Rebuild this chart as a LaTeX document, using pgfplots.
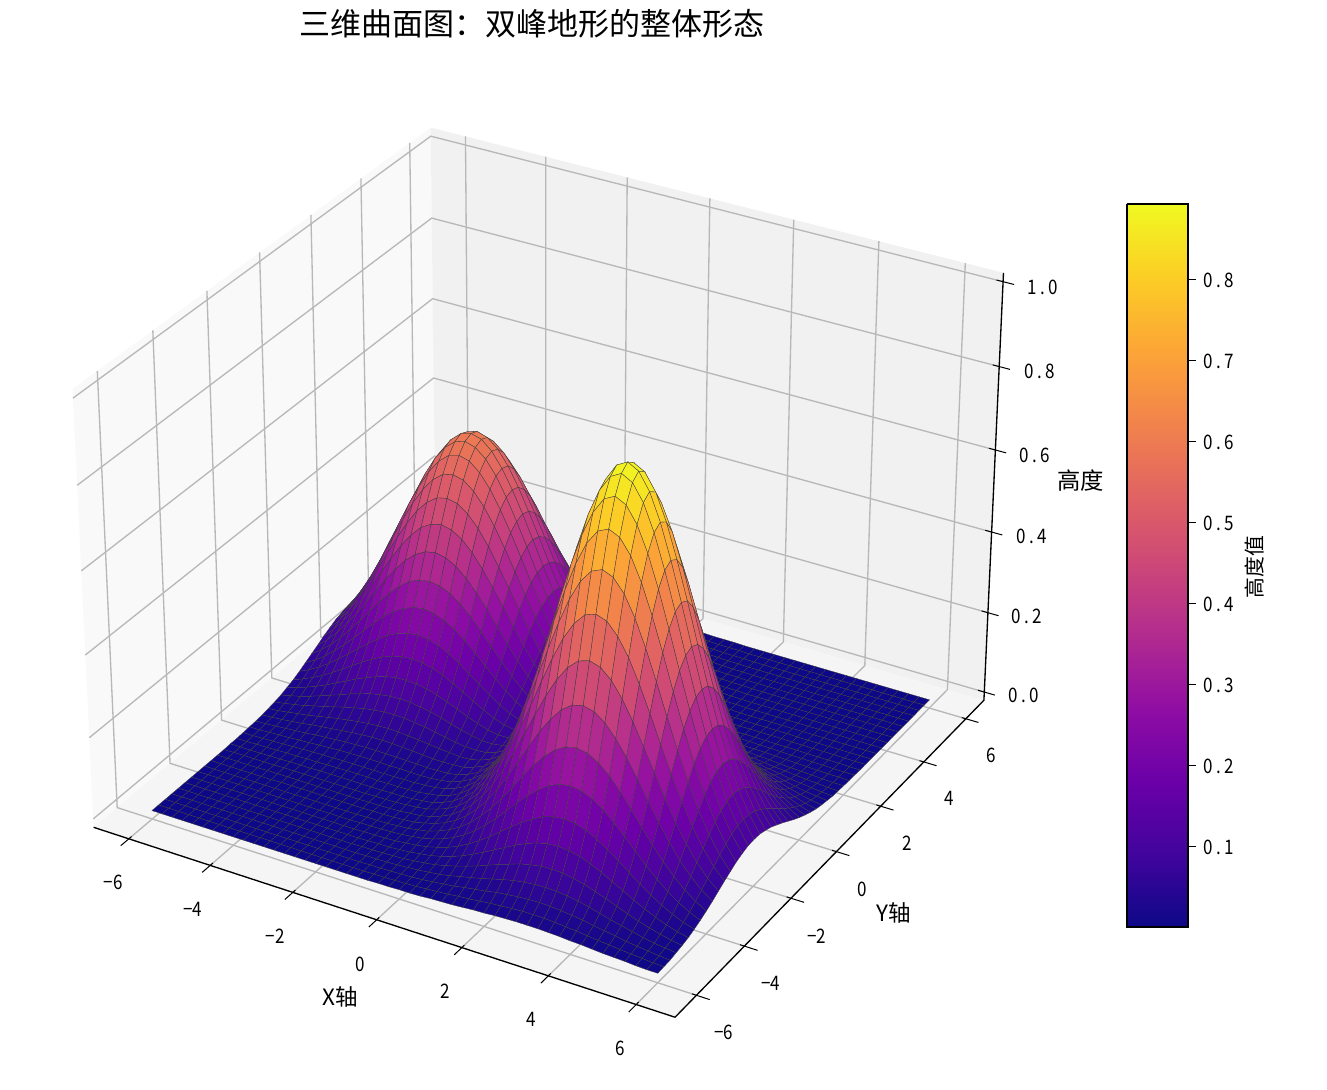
\documentclass[border=0pt]{standalone}
\usepackage{pgfplots}
\pgfplotsset{compat=1.18}
\usepackage{fontspec}
\setmainfont{Noto Sans CJK SC}
\newfontfamily\tkfont[FakeStretch=0.85]{Noto Sans CJK SC}
\definecolor{gridc}{gray}{0.72}
\pgfplotsset{table/proj/.style={row sep=\\,header=false,
  x expr={PX(\thisrowno{0},\thisrowno{1},\thisrowno{2})},
  y expr={PY(\thisrowno{0},\thisrowno{1},\thisrowno{2})},z expr=0}}
\newcommand\T[4][]{\node[inner sep=0pt,#1] at (axis cs:#2,#3,0) {#4};}
\newcommand\TK[3]{\T{#1}{#2}{\tkfont\fontsize{12pt}{12pt}\selectfont #3}}
\newcommand\tl[3]{\makebox[6.2pt]{#1}\makebox[6.2pt]{#2}\makebox[6.2pt]{#3}}
\begin{document}
\begin{tikzpicture}
\path[use as bounding box] (0,0) rectangle (796.2pt,654pt);
\begin{axis}[at={(0,0)},anchor=south west,scale only axis,width=796.2pt,height=654pt,
  xmin=0,xmax=1327,ymin=0,ymax=1090,zmin=-1,zmax=1,y dir=reverse,hide axis,clip=false,view={0}{90},
  declare function={
    DD(\x,\y,\z)=10-(0.43301*\x*0.08658-0.75*\y*0.08658+0.5*(0.85718*\z-0.42859));
    PX(\x,\y,\z)=547+5595*(0.86603*\x+0.5*\y)*0.08658/DD(\x,\y,\z);
    PY(\x,\y,\z)=551-5595*((-0.25*\x+0.43301*\y)*0.08658+0.86603*(0.85718*\z-0.42859))/DD(\x,\y,\z);
    RW(\c)=floor((\c+0.5)/49);
    CL(\c)=\c-49*RW(\c);
  },
  colormap={plasma}{rgb255=(13,8,135) rgb255=(65,4,157) rgb255=(106,0,168) rgb255=(143,13,164) rgb255=(177,42,144) rgb255=(204,71,120) rgb255=(225,100,98) rgb255=(242,132,75) rgb255=(252,166,54) rgb255=(252,206,37) rgb255=(240,249,33)},
  point meta min=0,point meta max=0.894]
% panes
\addplot3[fill={rgb,1:red,0.975;green,0.975;blue,0.975},draw=none] table[proj]{-6.875 -6.875 -0.02083\\-6.875 6.875 -0.02083\\-6.875 6.875 1.02083\\-6.875 -6.875 1.02083\\-6.875 -6.875 -0.02083\\};
\addplot3[fill={rgb,1:red,0.945;green,0.945;blue,0.945},draw=none] table[proj]{-6.875 6.875 -0.02083\\6.875 6.875 -0.02083\\6.875 6.875 1.02083\\-6.875 6.875 1.02083\\-6.875 6.875 -0.02083\\};
\addplot3[fill={rgb,1:red,0.96;green,0.96;blue,0.96},draw=none] table[proj]{-6.875 -6.875 -0.02083\\6.875 -6.875 -0.02083\\6.875 6.875 -0.02083\\-6.875 6.875 -0.02083\\-6.875 -6.875 -0.02083\\};
% grid and ticks
\pgfplotsinvokeforeach{-6,-4,-2,0,2,4,6}{
  \addplot3[gridc,line width=0.8pt] table[proj]{#1 -6.875 -0.02083\\#1 6.875 -0.02083\\#1 6.875 1.02083\\};
  \addplot3[gridc,line width=0.8pt] table[proj]{6.875 #1 -0.02083\\-6.875 #1 -0.02083\\-6.875 #1 1.02083\\};
  \addplot3[black,line width=0.6pt] table[proj]{#1 -7.175 -0.02083\\#1 -6.775 -0.02083\\};
  \addplot3[black,line width=0.6pt] table[proj]{6.775 #1 -0.02083\\7.175 #1 -0.02083\\};
}
\pgfplotsinvokeforeach{0,0.2,0.4,0.6,0.8,1.0}{
  \addplot3[gridc,line width=0.8pt] table[proj]{-6.875 -6.875 #1\\-6.875 6.875 #1\\6.875 6.875 #1\\};
  \addplot3[black,line width=0.6pt] table[proj]{6.725 6.875 #1\\7.125 6.875 #1\\};
}
% axis lines
\addplot3[black,line width=0.8pt] table[proj]{-6.875 -6.875 -0.02083\\6.875 -6.875 -0.02083\\6.875 6.875 -0.02083\\6.875 6.875 1.02083\\};
% surface: heights on a grid x=-6..6 (step 0.25), y=6..-6 (step 0.25)
\addplot3[surf,shader=faceted,faceted color=black!75,line width=0.2pt,z buffer=none,mesh/rows=49,mesh/cols=49,mesh/ordering=x varies,point meta=\thisrowno{0}]
 table[row sep=\\,header=false,
   x expr={PX(-6+0.25*CL(\coordindex),6-0.25*RW(\coordindex),\thisrowno{0})},
   y expr={PY(-6+0.25*CL(\coordindex),6-0.25*RW(\coordindex),\thisrowno{0})},z expr=0]{
.004\\.005\\.007\\.009\\.011\\.013\\.016\\.018\\.020\\.022\\.023\\.024\\.024\\.024\\.023\\.022\\.020\\.018\\.016\\.013\\.011\\.009\\.007\\.005\\.004\\.003\\.002\\.001\\.001\\.001\\0\\0\\0\\0\\0\\0\\0\\0\\0\\0\\0\\0\\0\\0\\0\\0\\0\\0\\0\\
.006\\.008\\.010\\.013\\.016\\.020\\.023\\.026\\.029\\.032\\.034\\.036\\.036\\.036\\.034\\.032\\.029\\.026\\.023\\.020\\.016\\.013\\.010\\.008\\.006\\.004\\.003\\.002\\.001\\.001\\.001\\0\\0\\0\\0\\0\\0\\0\\0\\0\\0\\0\\0\\0\\0\\0\\0\\0\\0\\
.009\\.011\\.015\\.019\\.023\\.028\\.033\\.038\\.042\\.046\\.049\\.051\\.052\\.051\\.049\\.046\\.042\\.038\\.033\\.028\\.023\\.019\\.015\\.011\\.009\\.006\\.004\\.003\\.002\\.001\\.001\\.001\\0\\0\\0\\0\\0\\0\\0\\0\\0\\0\\0\\0\\0\\0\\0\\0\\0\\
.012\\.016\\.021\\.026\\.033\\.039\\.046\\.053\\.059\\.065\\.069\\.072\\.073\\.072\\.069\\.065\\.059\\.053\\.046\\.039\\.033\\.026\\.021\\.016\\.012\\.009\\.006\\.004\\.003\\.002\\.001\\.001\\0\\0\\0\\0\\0\\0\\0\\0\\0\\0\\0\\0\\0\\0\\0\\0\\0\\
.016\\.022\\.028\\.036\\.045\\.054\\.063\\.073\\.081\\.089\\.094\\.098\\.099\\.098\\.094\\.089\\.081\\.073\\.063\\.054\\.045\\.036\\.028\\.022\\.016\\.012\\.009\\.006\\.004\\.003\\.002\\.001\\.001\\0\\0\\0\\0\\0\\0\\0\\0\\0\\0\\0\\0\\0\\0\\0\\0\\
.022\\.029\\.038\\.048\\.059\\.072\\.084\\.097\\.108\\.118\\.126\\.131\\.132\\.131\\.126\\.118\\.108\\.097\\.084\\.072\\.059\\.048\\.038\\.029\\.022\\.016\\.011\\.008\\.005\\.003\\.002\\.001\\.001\\0\\0\\0\\0\\0\\0\\0\\0\\0\\0\\0\\0\\0\\0\\0\\0\\
.028\\.038\\.049\\.062\\.077\\.093\\.110\\.126\\.141\\.154\\.164\\.170\\.172\\.170\\.164\\.154\\.141\\.126\\.110\\.093\\.077\\.062\\.049\\.038\\.028\\.021\\.015\\.010\\.007\\.005\\.003\\.002\\.001\\.001\\0\\0\\0\\0\\0\\0\\0\\0\\0\\0\\0\\0\\0\\0\\0\\
.036\\.048\\.062\\.079\\.098\\.118\\.139\\.159\\.178\\.195\\.207\\.215\\.218\\.215\\.207\\.195\\.178\\.159\\.139\\.118\\.098\\.079\\.062\\.048\\.036\\.027\\.019\\.013\\.009\\.006\\.004\\.002\\.001\\.001\\0\\0\\0\\0\\0\\0\\0\\0\\0\\0\\0\\0\\0\\0\\0\\
.045\\.059\\.077\\.098\\.121\\.146\\.172\\.197\\.221\\.241\\.256\\.266\\.270\\.266\\.256\\.241\\.221\\.197\\.172\\.146\\.121\\.098\\.077\\.059\\.045\\.033\\.023\\.016\\.011\\.007\\.004\\.003\\.002\\.001\\0\\0\\0\\0\\0\\0\\0\\0\\0\\0\\0\\0\\0\\0\\0\\
.054\\.072\\.093\\.118\\.146\\.176\\.207\\.238\\.266\\.291\\.310\\.321\\.325\\.321\\.310\\.291\\.266\\.238\\.207\\.176\\.146\\.118\\.093\\.072\\.054\\.039\\.028\\.020\\.013\\.009\\.006\\.004\\.002\\.001\\.001\\0\\0\\0\\0\\0\\0\\0\\0\\0\\0\\0\\0\\0\\0\\
.063\\.084\\.110\\.139\\.172\\.207\\.244\\.280\\.313\\.342\\.364\\.378\\.383\\.378\\.364\\.342\\.313\\.280\\.244\\.207\\.172\\.139\\.110\\.084\\.063\\.047\\.033\\.023\\.016\\.010\\.007\\.004\\.003\\.002\\.001\\0\\0\\0\\0\\0\\0\\0\\0\\0\\0\\0\\0\\0\\0\\
.073\\.097\\.126\\.159\\.197\\.238\\.280\\.321\\.359\\.392\\.418\\.433\\.439\\.433\\.418\\.392\\.359\\.321\\.280\\.238\\.197\\.159\\.126\\.097\\.073\\.053\\.038\\.026\\.018\\.012\\.008\\.005\\.004\\.003\\.002\\.002\\.001\\.001\\.001\\.001\\.001\\0\\0\\0\\0\\0\\0\\0\\0\\
.081\\.108\\.141\\.178\\.221\\.266\\.313\\.359\\.402\\.439\\.467\\.485\\.491\\.485\\.467\\.439\\.402\\.359\\.313\\.266\\.221\\.178\\.141\\.108\\.081\\.059\\.042\\.030\\.021\\.014\\.010\\.006\\.005\\.004\\.003\\.003\\.002\\.002\\.002\\.002\\.002\\.001\\.001\\.001\\.001\\.001\\0\\0\\0\\
.089\\.118\\.154\\.195\\.241\\.291\\.342\\.392\\.439\\.479\\.510\\.530\\.536\\.530\\.510\\.479\\.439\\.392\\.342\\.291\\.241\\.195\\.154\\.118\\.089\\.065\\.047\\.033\\.023\\.016\\.011\\.008\\.006\\.005\\.004\\.004\\.003\\.003\\.003\\.003\\.002\\.002\\.002\\.001\\.001\\.001\\.001\\0\\0\\
.094\\.126\\.164\\.207\\.256\\.310\\.364\\.418\\.467\\.510\\.543\\.564\\.571\\.564\\.543\\.510\\.467\\.418\\.364\\.310\\.256\\.207\\.164\\.126\\.095\\.070\\.050\\.036\\.025\\.018\\.013\\.010\\.009\\.007\\.007\\.007\\.006\\.006\\.006\\.005\\.005\\.004\\.003\\.003\\.002\\.002\\.001\\.001\\.001\\
.098\\.131\\.170\\.215\\.266\\.321\\.378\\.433\\.485\\.530\\.564\\.585\\.593\\.585\\.564\\.530\\.485\\.433\\.378\\.321\\.266\\.215\\.170\\.132\\.099\\.074\\.053\\.039\\.028\\.021\\.016\\.014\\.012\\.011\\.010\\.011\\.010\\.010\\.009\\.009\\.008\\.007\\.006\\.005\\.004\\.003\\.002\\.002\\.001\\
.099\\.132\\.172\\.218\\.270\\.325\\.383\\.439\\.491\\.536\\.571\\.593\\.600\\.593\\.571\\.536\\.491\\.439\\.383\\.325\\.270\\.218\\.173\\.133\\.101\\.075\\.055\\.041\\.030\\.023\\.019\\.018\\.016\\.016\\.016\\.017\\.016\\.016\\.015\\.014\\.012\\.011\\.009\\.007\\.006\\.005\\.003\\.002\\.002\\
.098\\.131\\.170\\.215\\.266\\.321\\.378\\.433\\.485\\.530\\.564\\.585\\.593\\.585\\.564\\.530\\.485\\.433\\.378\\.321\\.266\\.216\\.171\\.133\\.101\\.076\\.057\\.044\\.034\\.029\\.025\\.025\\.025\\.025\\.026\\.028\\.027\\.027\\.025\\.023\\.021\\.018\\.015\\.013\\.010\\.008\\.006\\.004\\.003\\
.094\\.126\\.164\\.207\\.256\\.310\\.364\\.418\\.467\\.510\\.543\\.564\\.571\\.564\\.543\\.510\\.467\\.418\\.364\\.310\\.257\\.208\\.166\\.129\\.098\\.075\\.058\\.046\\.038\\.035\\.034\\.034\\.037\\.038\\.040\\.042\\.042\\.041\\.039\\.036\\.033\\.028\\.024\\.020\\.015\\.012\\.009\\.006\\.004\\
.089\\.118\\.154\\.195\\.241\\.291\\.342\\.392\\.439\\.479\\.510\\.530\\.536\\.530\\.510\\.479\\.439\\.392\\.342\\.292\\.242\\.197\\.157\\.123\\.096\\.075\\.059\\.050\\.046\\.045\\.045\\.049\\.054\\.058\\.061\\.064\\.064\\.063\\.060\\.056\\.050\\.043\\.036\\.030\\.024\\.018\\.013\\.010\\.007\\
.081\\.108\\.141\\.178\\.221\\.266\\.313\\.359\\.402\\.439\\.467\\.485\\.491\\.485\\.467\\.439\\.402\\.359\\.314\\.267\\.223\\.181\\.145\\.115\\.091\\.073\\.062\\.056\\.055\\.057\\.063\\.069\\.076\\.084\\.089\\.094\\.094\\.093\\.088\\.082\\.073\\.064\\.054\\.044\\.035\\.027\\.020\\.014\\.010\\
.073\\.097\\.126\\.159\\.197\\.238\\.280\\.321\\.359\\.392\\.418\\.433\\.439\\.433\\.418\\.392\\.359\\.321\\.281\\.240\\.199\\.163\\.132\\.107\\.087\\.073\\.066\\.064\\.068\\.075\\.085\\.096\\.108\\.119\\.128\\.134\\.135\\.133\\.127\\.117\\.105\\.091\\.077\\.063\\.050\\.038\\.028\\.020\\.014\\
.063\\.084\\.110\\.139\\.172\\.207\\.244\\.280\\.313\\.342\\.364\\.378\\.383\\.378\\.364\\.342\\.313\\.281\\.245\\.209\\.175\\.145\\.119\\.097\\.083\\.075\\.072\\.076\\.085\\.097\\.114\\.131\\.149\\.164\\.177\\.184\\.187\\.184\\.176\\.162\\.146\\.127\\.107\\.087\\.069\\.053\\.039\\.028\\.020\\
.054\\.072\\.093\\.118\\.146\\.176\\.207\\.238\\.266\\.291\\.310\\.321\\.325\\.321\\.310\\.291\\.267\\.239\\.209\\.179\\.151\\.126\\.105\\.090\\.081\\.077\\.081\\.091\\.106\\.126\\.150\\.175\\.198\\.220\\.238\\.248\\.252\\.248\\.237\\.219\\.196\\.171\\.144\\.117\\.093\\.071\\.053\\.038\\.027\\
.045\\.059\\.077\\.098\\.121\\.146\\.172\\.197\\.221\\.241\\.256\\.266\\.270\\.266\\.256\\.241\\.222\\.198\\.174\\.150\\.127\\.108\\.092\\.083\\.080\\.083\\.092\\.109\\.132\\.160\\.191\\.226\\.258\\.287\\.309\\.324\\.329\\.324\\.309\\.286\\.256\\.223\\.187\\.153\\.121\\.093\\.069\\.050\\.035\\
.036\\.048\\.062\\.079\\.098\\.118\\.139\\.159\\.178\\.195\\.207\\.215\\.218\\.215\\.207\\.195\\.179\\.160\\.142\\.123\\.105\\.092\\.082\\.078\\.080\\.090\\.106\\.130\\.162\\.199\\.241\\.283\\.325\\.362\\.391\\.410\\.416\\.410\\.391\\.361\\.324\\.281\\.237\\.193\\.153\\.117\\.087\\.063\\.044\\
.028\\.038\\.049\\.062\\.077\\.093\\.110\\.126\\.141\\.154\\.164\\.170\\.172\\.170\\.164\\.155\\.142\\.128\\.113\\.099\\.086\\.077\\.073\\.074\\.082\\.098\\.122\\.154\\.194\\.242\\.293\\.346\\.397\\.443\\.478\\.501\\.509\\.501\\.478\\.442\\.396\\.344\\.290\\.237\\.187\\.144\\.107\\.077\\.054\\
.022\\.029\\.038\\.048\\.059\\.072\\.084\\.097\\.108\\.118\\.126\\.131\\.132\\.131\\.126\\.119\\.109\\.099\\.088\\.079\\.070\\.066\\.066\\.072\\.086\\.107\\.138\\.179\\.228\\.284\\.346\\.410\\.472\\.526\\.568\\.596\\.605\\.596\\.568\\.526\\.471\\.409\\.344\\.281\\.223\\.171\\.127\\.091\\.064\\
.016\\.022\\.028\\.036\\.045\\.054\\.063\\.073\\.081\\.089\\.094\\.098\\.099\\.098\\.094\\.090\\.083\\.075\\.068\\.062\\.057\\.057\\.061\\.072\\.089\\.117\\.155\\.202\\.260\\.327\\.398\\.472\\.543\\.605\\.654\\.685\\.696\\.685\\.654\\.605\\.542\\.471\\.396\\.324\\.256\\.196\\.146\\.105\\.073\\
.012\\.016\\.021\\.026\\.033\\.039\\.046\\.053\\.059\\.065\\.069\\.072\\.073\\.072\\.069\\.066\\.061\\.056\\.051\\.048\\.047\\.049\\.057\\.072\\.094\\.126\\.168\\.223\\.289\\.363\\.443\\.527\\.605\\.675\\.730\\.765\\.777\\.765\\.730\\.675\\.605\\.526\\.442\\.361\\.286\\.219\\.162\\.117\\.082\\
.009\\.011\\.015\\.019\\.023\\.028\\.033\\.038\\.042\\.046\\.049\\.051\\.052\\.051\\.049\\.047\\.044\\.041\\.039\\.037\\.038\\.044\\.054\\.071\\.097\\.133\\.180\\.240\\.311\\.392\\.479\\.569\\.654\\.730\\.789\\.827\\.840\\.827\\.789\\.730\\.654\\.568\\.478\\.391\\.309\\.237\\.176\\.127\\.088\\
.006\\.008\\.010\\.013\\.016\\.020\\.023\\.026\\.029\\.032\\.034\\.036\\.036\\.036\\.034\\.033\\.031\\.029\\.029\\.030\\.032\\.040\\.051\\.071\\.099\\.137\\.187\\.250\\.325\\.411\\.502\\.596\\.685\\.765\\.827\\.866\\.880\\.866\\.827\\.765\\.685\\.596\\.501\\.410\\.324\\.248\\.184\\.133\\.093\\
.004\\.005\\.007\\.009\\.011\\.013\\.016\\.018\\.020\\.022\\.023\\.024\\.024\\.024\\.023\\.023\\.022\\.021\\.022\\.023\\.027\\.036\\.049\\.069\\.098\\.138\\.189\\.253\\.330\\.417\\.509\\.605\\.696\\.777\\.840\\.880\\.894\\.880\\.840\\.777\\.696\\.605\\.509\\.416\\.329\\.252\\.187\\.135\\.094\\
.003\\.003\\.005\\.006\\.007\\.009\\.010\\.012\\.013\\.015\\.015\\.016\\.016\\.016\\.015\\.016\\.015\\.015\\.016\\.019\\.023\\.033\\.046\\.066\\.096\\.135\\.185\\.249\\.325\\.410\\.501\\.596\\.685\\.765\\.827\\.866\\.880\\.866\\.827\\.765\\.685\\.596\\.501\\.410\\.324\\.248\\.184\\.133\\.093\\
.002\\.002\\.003\\.004\\.005\\.006\\.007\\.008\\.009\\.009\\.010\\.010\\.010\\.010\\.010\\.010\\.011\\.011\\.013\\.015\\.020\\.029\\.042\\.062\\.090\\.128\\.177\\.238\\.309\\.391\\.478\\.568\\.654\\.730\\.789\\.827\\.840\\.827\\.789\\.730\\.654\\.568\\.478\\.391\\.309\\.237\\.176\\.127\\.088\\
.001\\.001\\.002\\.002\\.003\\.004\\.004\\.005\\.005\\.006\\.006\\.007\\.007\\.007\\.006\\.007\\.007\\.008\\.009\\.013\\.017\\.025\\.038\\.057\\.083\\.118\\.163\\.219\\.286\\.361\\.442\\.526\\.605\\.675\\.730\\.765\\.777\\.765\\.730\\.675\\.605\\.526\\.442\\.361\\.286\\.219\\.162\\.117\\.082\\
.001\\.001\\.001\\.001\\.002\\.002\\.003\\.003\\.003\\.004\\.004\\.004\\.004\\.004\\.004\\.004\\.005\\.005\\.007\\.010\\.013\\.022\\.034\\.051\\.073\\.105\\.146\\.196\\.256\\.324\\.396\\.471\\.542\\.605\\.654\\.685\\.696\\.685\\.654\\.605\\.542\\.471\\.396\\.324\\.256\\.196\\.146\\.105\\.073\\
0\\.001\\.001\\.001\\.001\\.001\\.002\\.002\\.002\\.002\\.002\\.002\\.002\\.002\\.002\\.003\\.003\\.004\\.006\\.008\\.012\\.019\\.029\\.043\\.064\\.091\\.127\\.171\\.223\\.281\\.344\\.409\\.471\\.526\\.568\\.596\\.605\\.596\\.568\\.526\\.471\\.409\\.344\\.281\\.223\\.171\\.127\\.091\\.064\\
0\\0\\0\\0\\0\\.001\\.001\\.001\\.001\\.001\\.001\\.001\\.001\\.001\\.001\\.002\\.002\\.003\\.004\\.007\\.009\\.015\\.024\\.036\\.054\\.077\\.107\\.144\\.187\\.237\\.290\\.344\\.396\\.442\\.478\\.501\\.509\\.501\\.478\\.442\\.396\\.344\\.290\\.237\\.187\\.144\\.107\\.077\\.054\\
0\\0\\0\\0\\0\\0\\0\\.001\\.001\\.001\\.001\\.001\\.001\\.001\\.001\\.001\\.002\\.002\\.003\\.005\\.007\\.013\\.020\\.030\\.044\\.063\\.087\\.117\\.153\\.193\\.237\\.281\\.324\\.361\\.391\\.410\\.416\\.410\\.391\\.361\\.324\\.281\\.237\\.193\\.153\\.117\\.087\\.063\\.044\\
0\\0\\0\\0\\0\\0\\0\\0\\0\\0\\0\\0\\0\\0\\0\\0\\.001\\.001\\.002\\.004\\.006\\.010\\.015\\.024\\.035\\.050\\.069\\.093\\.121\\.153\\.187\\.223\\.256\\.286\\.309\\.324\\.329\\.324\\.309\\.286\\.256\\.223\\.187\\.153\\.121\\.093\\.069\\.050\\.035\\
0\\0\\0\\0\\0\\0\\0\\0\\0\\0\\0\\0\\0\\0\\0\\0\\.001\\.001\\.002\\.003\\.005\\.008\\.012\\.018\\.027\\.038\\.053\\.071\\.093\\.117\\.144\\.171\\.196\\.219\\.237\\.248\\.252\\.248\\.237\\.219\\.196\\.171\\.144\\.117\\.093\\.071\\.053\\.038\\.027\\
0\\0\\0\\0\\0\\0\\0\\0\\0\\0\\0\\0\\0\\0\\0\\0\\0\\.001\\.001\\.002\\.003\\.006\\.009\\.013\\.020\\.028\\.039\\.053\\.069\\.087\\.107\\.127\\.146\\.162\\.176\\.184\\.187\\.184\\.176\\.162\\.146\\.127\\.107\\.087\\.069\\.053\\.039\\.028\\.020\\
0\\0\\0\\0\\0\\0\\0\\0\\0\\0\\0\\0\\0\\0\\0\\0\\0\\0\\.001\\.002\\.002\\.004\\.006\\.010\\.014\\.020\\.028\\.038\\.050\\.063\\.077\\.091\\.105\\.117\\.127\\.133\\.135\\.133\\.127\\.117\\.105\\.091\\.077\\.063\\.050\\.038\\.028\\.020\\.014\\
0\\0\\0\\0\\0\\0\\0\\0\\0\\0\\0\\0\\0\\0\\0\\0\\0\\0\\.001\\.001\\.002\\.003\\.004\\.007\\.010\\.014\\.020\\.027\\.035\\.044\\.054\\.064\\.073\\.082\\.088\\.093\\.094\\.093\\.088\\.082\\.073\\.064\\.054\\.044\\.035\\.027\\.020\\.014\\.010\\
0\\0\\0\\0\\0\\0\\0\\0\\0\\0\\0\\0\\0\\0\\0\\0\\0\\0\\0\\.001\\.001\\.002\\.003\\.005\\.007\\.010\\.013\\.018\\.024\\.030\\.036\\.043\\.050\\.056\\.060\\.063\\.064\\.063\\.060\\.056\\.050\\.043\\.036\\.030\\.024\\.018\\.013\\.010\\.007\\
0\\0\\0\\0\\0\\0\\0\\0\\0\\0\\0\\0\\0\\0\\0\\0\\0\\0\\0\\0\\.001\\.001\\.002\\.003\\.004\\.006\\.009\\.012\\.015\\.020\\.024\\.028\\.033\\.036\\.039\\.041\\.042\\.041\\.039\\.036\\.033\\.028\\.024\\.020\\.015\\.012\\.009\\.006\\.004\\
0\\0\\0\\0\\0\\0\\0\\0\\0\\0\\0\\0\\0\\0\\0\\0\\0\\0\\0\\0\\0\\.001\\.001\\.002\\.003\\.004\\.006\\.008\\.010\\.013\\.015\\.018\\.021\\.023\\.025\\.027\\.027\\.027\\.025\\.023\\.021\\.018\\.015\\.013\\.010\\.008\\.006\\.004\\.003\\
0\\0\\0\\0\\0\\0\\0\\0\\0\\0\\0\\0\\0\\0\\0\\0\\0\\0\\0\\0\\0\\0\\.001\\.001\\.002\\.002\\.003\\.005\\.006\\.007\\.009\\.011\\.012\\.014\\.015\\.016\\.016\\.016\\.015\\.014\\.012\\.011\\.009\\.007\\.006\\.005\\.003\\.002\\.002\\
};
% colorbar
\addplot3[surf,shader=interp,z buffer=none,mesh/rows=2,mesh/cols=2,mesh/ordering=x varies,point meta=\thisrowno{2}]
 table[row sep=\\,header=false,x index=0,y index=1,z expr=0]{1127 927 0\\1188 927 0\\1127 204 0.894\\1188 204 0.894\\};
\addplot3[black,line width=0.65pt] coordinates {(1127,204,0) (1188,204,0) (1188,927,0) (1127,927,0) (1127,204,0)};
\pgfplotsinvokeforeach{846.1,765.2,684.3,603.4,522.6,441.7,360.8,279.9}{
  \addplot3[black,line width=0.6pt] coordinates {(1188,#1,0) (1196,#1,0)};
}
% tick labels
\TK{113}{882}{−6}\TK{193}{909}{−4}\TK{275}{936}{−2}\TK{360}{964}{0}\TK{445}{991}{2}\TK{531}{1019}{4}\TK{620}{1048}{6}
\TK{724}{1032}{−6}\TK{771}{983}{−4}\TK{817}{936}{−2}\TK{862}{889}{0}\TK{907}{843}{2}\TK{949}{798}{4}\TK{991}{755}{6}
\TK{1024}{695}{\tl{0}{.}{0}}\TK{1027}{616}{\tl{0}{.}{2}}\TK{1032}{536}{\tl{0}{.}{4}}\TK{1035}{455}{\tl{0}{.}{6}}\TK{1040}{371}{\tl{0}{.}{8}}\TK{1043}{287}{\tl{1}{.}{0}}
\TK{1219}{847}{\tl{0}{.}{1}}\TK{1219}{766}{\tl{0}{.}{2}}\TK{1219}{685}{\tl{0}{.}{3}}\TK{1219}{604}{\tl{0}{.}{4}}\TK{1219}{523}{\tl{0}{.}{5}}\TK{1219}{442}{\tl{0}{.}{6}}\TK{1219}{361}{\tl{0}{.}{7}}\TK{1219}{280}{\tl{0}{.}{8}}
% labels
\T{532}{24}{\fontsize{18.6pt}{20pt}\selectfont 三维曲面图：双峰地形的整体形态}
\T{340}{997}{\fontsize{13.5pt}{14pt}\selectfont X轴}
\T{894}{913}{\fontsize{13.5pt}{14pt}\selectfont Y轴}
\T{1081}{481}{\fontsize{14pt}{15pt}\selectfont 高度}
\T[rotate=90]{1255}{567}{\fontsize{12.5pt}{13pt}\selectfont 高度值}
\end{axis}
\end{tikzpicture}
\end{document}
